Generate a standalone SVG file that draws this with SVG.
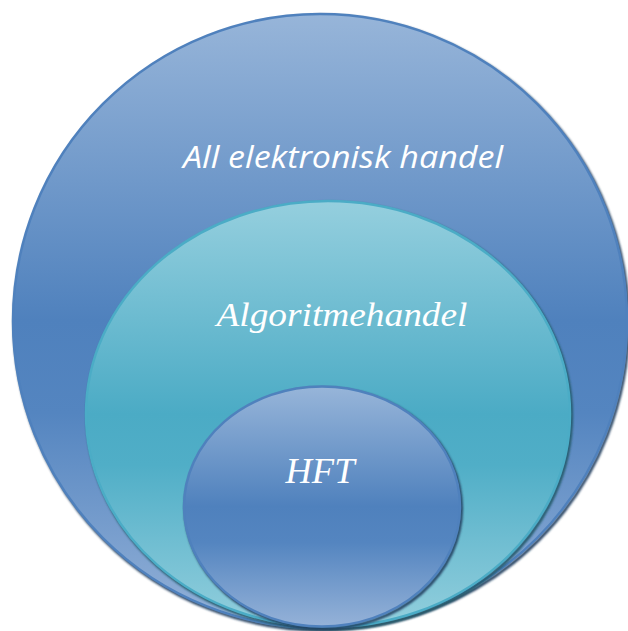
<svg xmlns="http://www.w3.org/2000/svg" width="628" height="631" viewBox="0 0 628 631">
  <defs>
    <linearGradient id="gBlue" x1="0" y1="0" x2="0" y2="1">
      <stop offset="0" stop-color="#97b5d9"/>
      <stop offset="0.5" stop-color="#4f81bd"/>
      <stop offset="0.65" stop-color="#5485c0"/>
      <stop offset="1" stop-color="#95b2d8"/>
    </linearGradient>
    <linearGradient id="gTeal" x1="0" y1="0" x2="0" y2="1">
      <stop offset="0" stop-color="#95cfde"/>
      <stop offset="0.5" stop-color="#4babc5"/>
      <stop offset="0.62" stop-color="#50aec7"/>
      <stop offset="1" stop-color="#93cfdd"/>
    </linearGradient>
    <filter id="blur" x="-10%" y="-10%" width="120%" height="120%">
      <feGaussianBlur stdDeviation="0.8"/>
    </filter>
  </defs>
  <style>
    .shadow { fill: none; stroke-width: 3; filter: url(#blur); }
    .lbl { fill: #ffffff; text-anchor: middle; font-style: italic; }
  </style>

  <g id="outer">
    <ellipse cx="321.5" cy="323" rx="307" ry="307" class="shadow" stroke="#243f60"/>
    <ellipse cx="320" cy="321" rx="307" ry="307" fill="url(#gBlue)" stroke="#4f81bd" stroke-width="2.5"/>
    <text class="lbl" font-family="'Open Sans', Lato, 'Liberation Sans', sans-serif" x="343" y="168" font-size="31" textLength="320" lengthAdjust="spacingAndGlyphs">All elektronisk handel</text>
  </g>

  <g id="middle">
    <ellipse cx="329.5" cy="416" rx="242" ry="213" class="shadow" stroke="#215968"/>
    <ellipse cx="328" cy="414" rx="242" ry="213" fill="url(#gTeal)" stroke="#4bacc6" stroke-width="2.5"/>
    <text class="lbl" font-family="'Liberation Serif', 'DejaVu Serif', serif" x="342" y="326" font-size="33" textLength="251" lengthAdjust="spacingAndGlyphs">Algoritmehandel</text>
  </g>

  <g id="inner">
    <ellipse cx="323.5" cy="508.5" rx="138" ry="120" class="shadow" stroke="#243f60"/>
    <ellipse cx="322" cy="506.5" rx="138" ry="120" fill="url(#gBlue)" stroke="#4f81bd" stroke-width="2.5"/>
    <text class="lbl" font-family="'Liberation Serif', 'DejaVu Serif', serif" x="320" y="483" font-size="36" textLength="69" lengthAdjust="spacingAndGlyphs">HFT</text>
  </g>

  <g id="connectors"/>
</svg>
